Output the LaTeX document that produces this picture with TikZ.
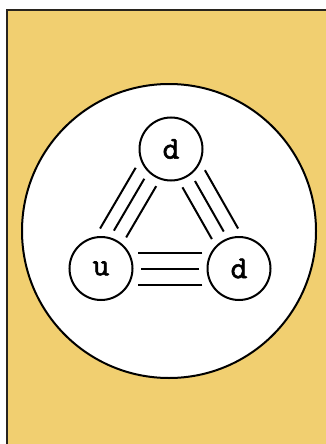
\documentclass[tikz,border=0pt]{standalone}
\usepackage{fontspec}
\newfontfamily\quarkfont{lmmono10-regular.otf}[FakeBold=1.6]
\usetikzlibrary{calc}
\definecolor{panel}{RGB}{241,207,112}
\definecolor{frameline}{RGB}{40,36,30}

\begin{document}
\begin{tikzpicture}[
        x=1pt, y=-1pt,
        quark/.style={circle, draw, line width=2pt, fill=white, minimum size=63pt, inner sep=0pt, font=\quarkfont\fontsize{32}{32}\selectfont},
        bond/.style={line width=2pt},
        hadron/.style={circle, draw, line width=2pt, fill=white, minimum size=294pt}
    ]
    \useasboundingbox (0,0) rectangle (326,444);
    \fill[panel] (7,10) rectangle (326,444);
    \draw[frameline, line width=2.2pt] (7,444) -- (7,10) -- (326,10);
    \node[hadron] (hadron) at (169,231) {};
    \node[quark] (top) at (171,149) {d};
    \node[quark] (left) at (101,268.5) {u};
    \node[quark] (right) at (239,268.5) {d};
    % three bonds per pair, offset outwards
    \foreach \a/\b/\o in {left/top/21, left/top/8, left/top/-6,
                          top/right/19, top/right/5, top/right/-9,
                          right/left/16, right/left/0, right/left/-16}{
        \pgfmathsetmacro\sh{sqrt(1600-\o*\o)}
        \draw[bond, shorten <=\sh pt, shorten >=\sh pt]
            ($(\a)!\o pt!90:(\b)$) -- ($(\b)!\o pt!-90:(\a)$);
    }
\end{tikzpicture}
\end{document}
